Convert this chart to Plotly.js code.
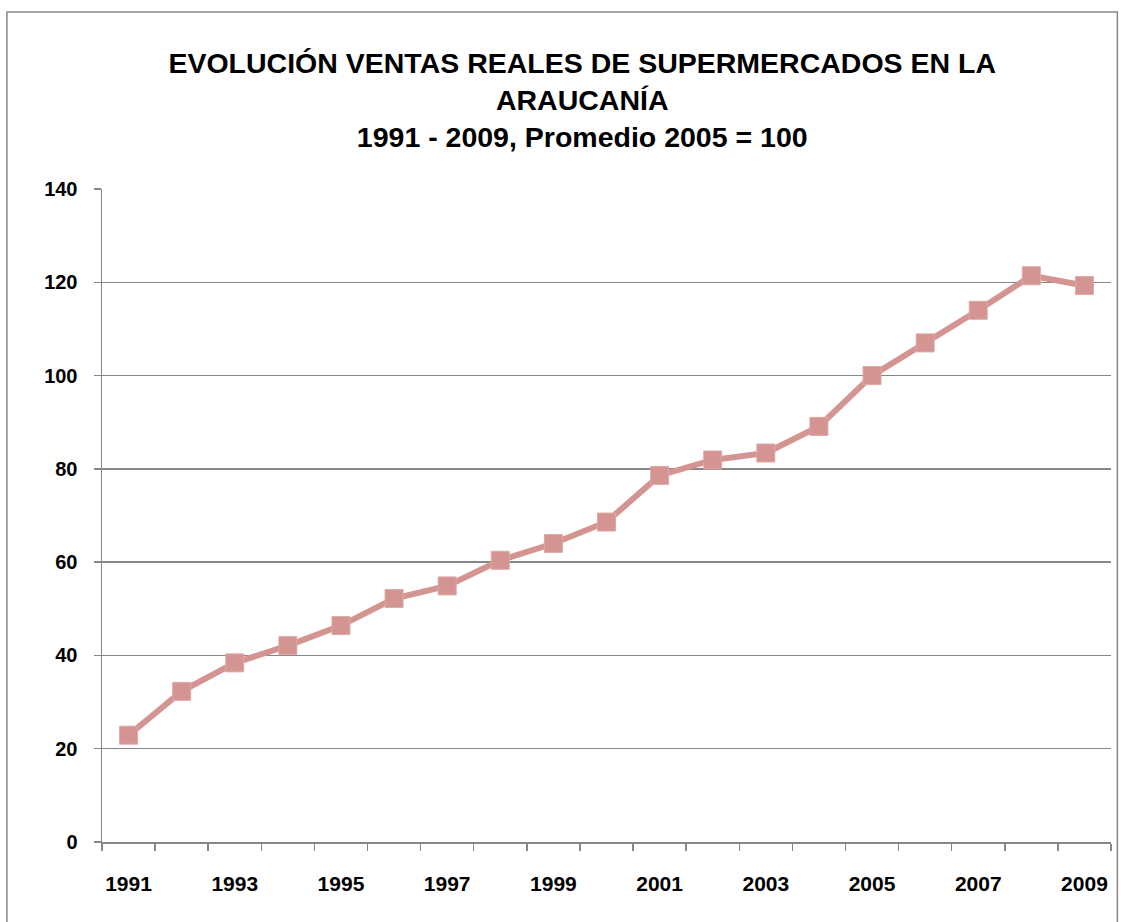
<!DOCTYPE html>
<html>
<head>
<meta charset="utf-8">
<script src="https://cdn.plot.ly/plotly-3.0.1.min.js"></script>
<style>
  html, body { margin: 0; padding: 0; background: #ffffff; }
  #chart { width: 1124px; height: 922px; }
</style>
</head>
<body>
<div id="chart"></div>
<script>
// Data
var years = [1991, 1992, 1993, 1994, 1995, 1996, 1997, 1998, 1999, 2000,
             2001, 2002, 2003, 2004, 2005, 2006, 2007, 2008, 2009];
var ventas = [22.9, 32.3, 38.4, 42.1, 46.4, 52.2, 54.9, 60.4, 64.0, 68.6,
              78.6, 81.9, 83.4, 89.1, 100.0, 107.0, 114.0, 121.4, 119.3];
var labelYears = [1991, 1993, 1995, 1997, 1999, 2001, 2003, 2005, 2007, 2009];
var labelText = labelYears.map(String);
var titleLines = ['EVOLUCIÓN VENTAS REALES DE SUPERMERCADOS EN LA',
                  'ARAUCANÍA',
                  '1991 - 2009, Promedio 2005 = 100'];

var gray = '#868686';
var lineColor = '#D39492';
var fontFam = 'Liberation Sans, Arial, sans-serif';

var trace = {
  x: years,
  y: ventas,
  type: 'scatter',
  mode: 'lines+markers',
  line: { color: lineColor, width: 6 },
  marker: { symbol: 'square', size: 18, color: lineColor,
            line: { color: '#DDA9A7', width: 1 } },
  hoverinfo: 'x+y'
};

var layout = {
  width: 1124,
  height: 922,
  margin: { l: 102, r: 13, t: 189, b: 80 },
  paper_bgcolor: '#ffffff',
  plot_bgcolor: '#ffffff',
  showlegend: false,
  title: {
    text: titleLines[0] + '<br>' + titleLines[1] + '<br>' + titleLines[2],
    font: { family: fontFam, size: 28.5, color: '#000000', weight: 'bold' },
    x: 0.518, xanchor: 'center', xref: 'container',
    y: 0.921, yanchor: 'top', yref: 'container'
  },
  xaxis: {
    type: 'linear',
    range: [years[0] - 0.5, years[years.length - 1] + 0.5],
    tickmode: 'array',
    tickvals: labelYears,
    ticktext: labelText,
    ticks: '',
    showgrid: false,
    zeroline: false,
    showline: true,
    linecolor: gray,
    linewidth: 1.5,
    tickfont: { family: fontFam, size: 21, color: '#000000', weight: 'bold' },
    ticklabelstandoff: 22,
    minor: {
      ticks: 'outside',
      tick0: years[0] - 0.5,
      dtick: 1,
      ticklen: 7,
      tickwidth: 1.5,
      tickcolor: gray,
      showgrid: false
    },
    fixedrange: true
  },
  yaxis: {
    range: [0, 140],
    tickmode: 'linear',
    tick0: 0,
    dtick: 20,
    ticks: 'outside',
    ticklen: 7,
    tickwidth: 1.5,
    tickcolor: gray,
    showgrid: true,
    gridcolor: gray,
    gridwidth: 1.5,
    zeroline: false,
    showline: true,
    linecolor: gray,
    linewidth: 1.5,
    tickfont: { family: fontFam, size: 20, color: '#000000', weight: 'bold' },
    ticklabelstandoff: 12,
    fixedrange: true
  },
  shapes: [{
    type: 'rect',
    xref: 'paper', yref: 'paper',
    x0: -0.0942, x1: 1.0063,
    y0: -0.13, y1: 1.2709,
    line: { color: gray, width: 1.5 },
    fillcolor: 'rgba(0,0,0,0)',
    layer: 'below'
  }]
};

Plotly.newPlot('chart', [trace], layout, { displayModeBar: false, staticPlot: true });
</script>
</body>
</html>
